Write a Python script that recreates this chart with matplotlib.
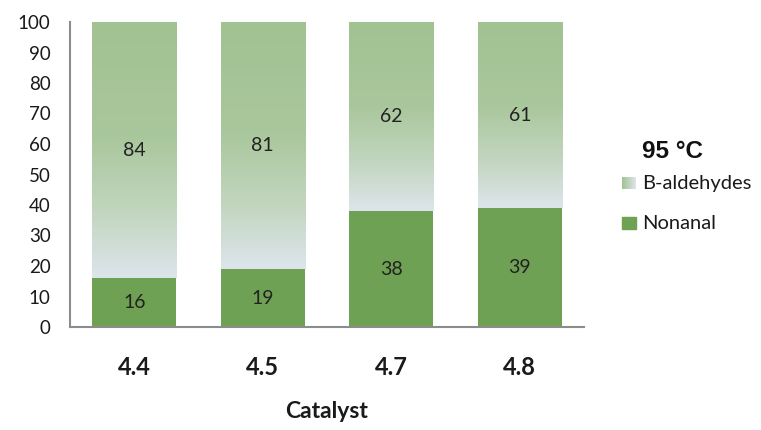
import numpy as np
import matplotlib
matplotlib.use("Agg")
import matplotlib.pyplot as plt
from matplotlib.colors import LinearSegmentedColormap

# Data
catalysts = ["4.4", "4.5", "4.7", "4.8"]
nonanal = [16, 19, 38, 39]
b_aldehydes = [84, 81, 62, 61]
yticks = list(range(0, 101, 10))

nonanal_color = "#6ea153"
grad_cmap = LinearSegmentedColormap.from_list(
    "bald", [(0.0, "#dde5ec"), (0.25, "#c3d6c0"), (0.55, "#a9c79c"), (1.0, "#a2c292")])

plt.rcParams["font.family"] = ["Lato", "DejaVu Sans"]

fig = plt.figure(figsize=(7.61, 4.30), dpi=100)
ax = fig.add_axes([70 / 761, 1 - 327 / 430, 514 / 761, 305 / 430])

x = np.arange(len(catalysts))
width = 0.655

ax.bar(x, nonanal, width, color=nonanal_color, zorder=2)

# gradient-filled upper segments
grad = np.linspace(0, 1, 256).reshape(-1, 1)
for xi, lo, h in zip(x, nonanal, b_aldehydes):
    ax.imshow(grad, cmap=grad_cmap, origin="lower", aspect="auto",
              extent=[xi - width / 2, xi + width / 2, lo, lo + h], zorder=1,
              interpolation="bilinear")

for xi, lo, h in zip(x, nonanal, b_aldehydes):
    ax.text(xi, lo / 2, f"{lo}", ha="center", va="center", fontsize=14, color="#222222")
    ax.text(xi, lo + h / 2, f"{h}", ha="center", va="center", fontsize=14, color="#222222")

ax.set_xlim(-0.5, len(catalysts) - 0.5)
ax.set_ylim(0, 100)
ax.set_yticks(yticks)
ax.set_yticklabels([str(t) for t in yticks], fontsize=13.5, color="#1a1a1a")
ax.set_xticks(x)
ax.set_xticklabels(catalysts, fontsize=17, fontweight="bold", color="#1a1a1a")
ax.tick_params(axis="y", length=0, pad=14)
ax.tick_params(axis="x", length=0, pad=21)
ax.set_xlabel("Catalyst", fontsize=16.5, fontweight="bold", color="#1a1a1a", labelpad=16)

for s in ["top", "right"]:
    ax.spines[s].set_visible(False)
for s in ["left", "bottom"]:
    ax.spines[s].set_color("#8c8c8c")
    ax.spines[s].set_linewidth(1.5)

# legend
fig.text(673 / 761, 1 - 151 / 430, "95 °C", ha="center", va="center",
         fontsize=17.5, fontweight="bold", family=["Liberation Sans", "DejaVu Sans"], color="#111111")
lg1 = fig.add_axes([622 / 761, 1 - 189 / 430, 14 / 761, 12 / 430])
lg1.imshow(np.linspace(0, 1, 32).reshape(1, -1), cmap=LinearSegmentedColormap.from_list(
    "lg", ["#a2c292", "#dde5ec"]), aspect="auto")
lg1.axis("off")
fig.text(642 / 761, 1 - 183 / 430, "B-aldehydes", ha="left", va="center",
         fontsize=14.5, color="#1a1a1a")
fig.patches.append(plt.Rectangle((622 / 761, 1 - 229 / 430), 14 / 761, 12 / 430,
                                 transform=fig.transFigure, color=nonanal_color, figure=fig))
fig.text(642 / 761, 1 - 223 / 430, "Nonanal", ha="left", va="center",
         fontsize=14.5, color="#1a1a1a")

fig.savefig("out.png", dpi=100)
